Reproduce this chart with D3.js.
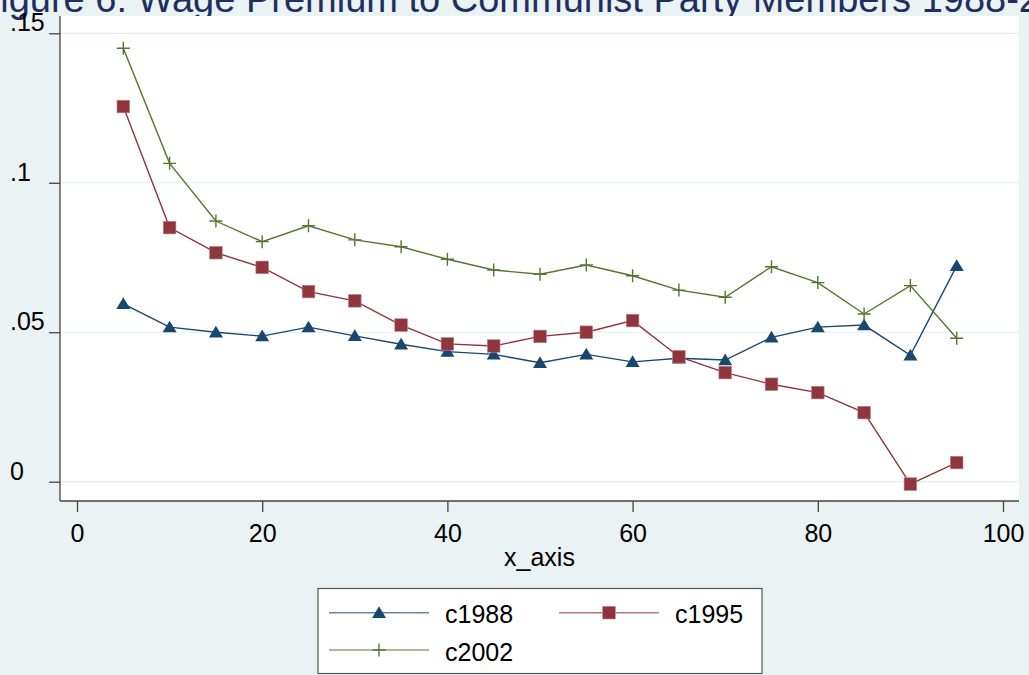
<!DOCTYPE html>
<html>
<head>
<meta charset="utf-8">
<script src="https://cdn.jsdelivr.net/npm/d3@7"></script>
<style>
  html, body { margin: 0; padding: 0; background: #EAF2F3; }
  svg { display: block; font-family: "Liberation Sans", Arial, sans-serif; }
</style>
</head>
<body>
<svg id="chart" width="1029" height="675"></svg>
<script>
// ---- data ----
const xValues = [5, 10, 15, 20, 25, 30, 35, 40, 45, 50, 55, 60, 65, 70, 75, 80, 85, 90, 95];
const c1988 = [0.0595, 0.0517, 0.0500, 0.0487, 0.0517, 0.0488, 0.0460, 0.0435, 0.0426, 0.0398, 0.0426, 0.0401, 0.0413, 0.0407, 0.0483, 0.0517, 0.0524, 0.0423, 0.0722];
const c1995 = [0.1255, 0.0850, 0.0766, 0.0717, 0.0636, 0.0605, 0.0524, 0.0461, 0.0454, 0.0486, 0.0500, 0.0539, 0.0418, 0.0365, 0.0326, 0.0298, 0.0231, -0.0008, 0.0064];
const c2002 = [0.1450, 0.1065, 0.0872, 0.0803, 0.0856, 0.0809, 0.0786, 0.0744, 0.0708, 0.0694, 0.0725, 0.0689, 0.0641, 0.0617, 0.0719, 0.0666, 0.0561, 0.0656, 0.0480];
const seriesNames = ["c1988", "c1995", "c2002"];
const xTicks = [0, 20, 40, 60, 80, 100];
const yTicks = [0, 0.05, 0.1, 0.15];
const yTickLabels = ["0", ".05", ".1", ".15"];
const titleText = "Figure 6: Wage Premium to Communist Party Members 1988-2002";
const xAxisTitle = "x_axis";

// ---- layout ----
const svg = d3.select("#chart");
const plot = { left: 60, right: 1019, top: 16, bottom: 501 };
const x = d3.scaleLinear().domain([0, 100]).range([77, 1003]);
const y = d3.scaleLinear().domain([0, 0.15]).range([481.7, 33.3]);
const colors = { c1988: "#1A476F", c1995: "#90353B", c2002: "#55752F" };
const series = [
  { name: "c1988", values: c1988, marker: "triangle" },
  { name: "c1995", values: c1995, marker: "square" },
  { name: "c2002", values: c2002, marker: "plus" }
];

// background
svg.append("rect").attr("width", 1029).attr("height", 675).attr("fill", "#EAF2F3");

// title (cropped at top as in reference)
svg.append("text")
  .attr("x", -23).attr("y", 12)
  .attr("font-size", 38).attr("fill", "#1E2F60")
  .text(titleText);

// plot area
svg.append("rect")
  .attr("x", plot.left).attr("y", plot.top)
  .attr("width", plot.right - plot.left).attr("height", plot.bottom - plot.top)
  .attr("fill", "#ffffff");

// gridlines
svg.append("g").selectAll("line").data(yTicks).join("line")
  .attr("x1", plot.left).attr("x2", plot.right)
  .attr("y1", d => y(d)).attr("y2", d => y(d))
  .attr("stroke", "#E4EEF0").attr("stroke-width", 1.2);

// y axis
const yAxis = d3.axisLeft(y).tickValues(yTicks).tickSize(11).tickPadding(0)
  .tickFormat((d, i) => yTickLabels[i]);
const gy = svg.append("g").attr("transform", `translate(${plot.left},0)`).call(yAxis);
gy.select(".domain").attr("d", `M0,${plot.top}V${plot.bottom}`).attr("stroke", "#444").attr("stroke-width", 1.3);
gy.selectAll(".tick line").attr("stroke", "#444").attr("stroke-width", 1.3);
gy.selectAll(".tick text")
  .attr("x", 10 - plot.left).attr("text-anchor", "start").attr("dy", "-0.1em")
  .attr("font-size", 25).attr("fill", "#000").attr("font-family", "Liberation Sans, Arial, sans-serif");

// x axis
const xAxis = d3.axisBottom(x).tickValues(xTicks).tickSize(11).tickPadding(0).tickFormat(d3.format("d"));
const gx = svg.append("g").attr("transform", `translate(0,${plot.bottom})`).call(xAxis);
gx.select(".domain").attr("d", `M${plot.left},0H${plot.right}`).attr("stroke", "#444").attr("stroke-width", 1.3);
gx.selectAll(".tick line").attr("stroke", "#444").attr("stroke-width", 1.3);
gx.selectAll(".tick text")
  .attr("y", 41).attr("dy", 0)
  .attr("font-size", 25).attr("fill", "#000").attr("font-family", "Liberation Sans, Arial, sans-serif");

svg.append("text")
  .attr("x", (plot.left + plot.right) / 2).attr("y", 566)
  .attr("text-anchor", "middle").attr("font-size", 25).attr("fill", "#000")
  .text(xAxisTitle);

// marker drawing
function drawMarker(g, type, color) {
  if (type === "triangle") {
    g.append("path").attr("d", "M0,-6.5L7,5.2L-7,5.2Z").attr("fill", color);
  } else if (type === "square") {
    g.append("rect").attr("x", -6.3).attr("y", -6.3).attr("width", 12.6).attr("height", 12.6)
      .attr("fill", color).attr("stroke", "#B88589").attr("stroke-width", 0.6);
  } else {
    g.append("path").attr("d", "M-6.5,0H6.5M0,-6.5V6.5").attr("stroke", color).attr("stroke-width", 1.4).attr("fill", "none");
  }
}

const line = d3.line().x(d => x(d[0])).y(d => y(d[1]));
series.forEach(s => {
  const pts = xValues.map((xv, i) => [xv, s.values[i]]);
  svg.append("path").datum(pts).attr("d", line)
    .attr("fill", "none").attr("stroke", colors[s.name]).attr("stroke-width", 1.4);
});
series.forEach(s => {
  xValues.forEach((xv, i) => {
    const g = svg.append("g").attr("transform", `translate(${x(xv)},${y(s.values[i])})`);
    drawMarker(g, s.marker, colors[s.name]);
  });
});

// legend
const legend = svg.append("g");
legend.append("rect").attr("x", 318).attr("y", 588.5).attr("width", 444).attr("height", 85)
  .attr("fill", "#fff").attr("stroke", "#555").attr("stroke-width", 1.2);
const legendPos = [
  { lx: 329, ty: 612.7 }, { lx: 559, ty: 612.7 }, { lx: 329, ty: 650 }
];
series.forEach((s, i) => {
  const p = legendPos[i];
  legend.append("line").attr("x1", p.lx).attr("x2", p.lx + 100)
    .attr("y1", p.ty).attr("y2", p.ty)
    .attr("stroke", colors[s.name]).attr("stroke-opacity", 0.65).attr("stroke-width", 1.4);
  const g = legend.append("g").attr("transform", `translate(${p.lx + 50},${p.ty})`);
  drawMarker(g, s.marker, colors[s.name]);
  legend.append("text").attr("x", p.lx + 116).attr("y", p.ty + 10.5)
    .attr("font-size", 25).attr("fill", "#000").text(s.name);
});
</script>
</body>
</html>
